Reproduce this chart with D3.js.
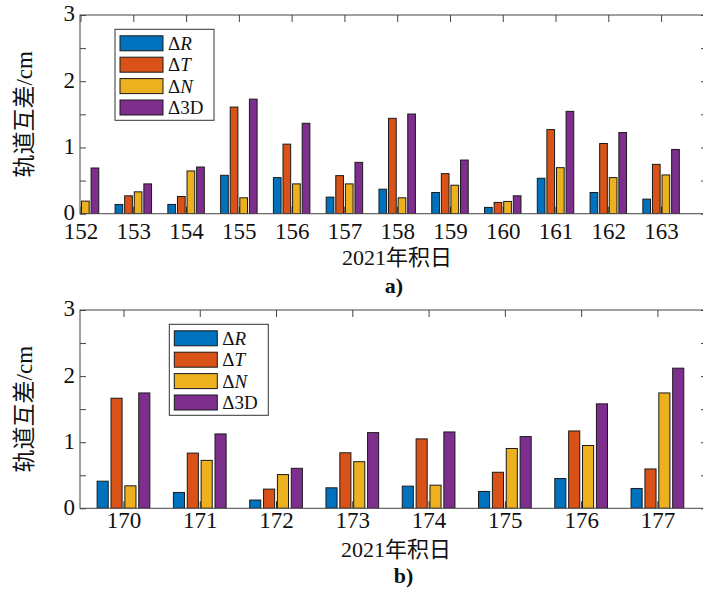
<!DOCTYPE html>
<html>
<head>
  <meta charset="utf-8">
  <title>轨道互差</title>
  <script src="https://cdn.jsdelivr.net/npm/d3@7/dist/d3.min.js"></script>
  <style>
    body { margin: 0; background: #fff; }
    text { fill: #111; }
  </style>
</head>
<body>
  <script>
    // panel a)
    const daysA = [152, 153, 154, 155, 156, 157, 158, 159, 160, 161, 162, 163]
    const rA = [null, 0.14, 0.14, 0.58, 0.545, 0.25, 0.37, 0.32, 0.095, 0.535, 0.32, 0.22]
    const tA = [null, 0.27, 0.26, 1.61, 1.05, 0.575, 1.44, 0.605, 0.17, 1.27, 1.06, 0.745]
    const nA = [0.19, 0.33, 0.645, 0.24, 0.45, 0.45, 0.24, 0.43, 0.185, 0.695, 0.545, 0.585]
    const dA = [0.69, 0.45, 0.705, 1.73, 1.365, 0.775, 1.505, 0.81, 0.27, 1.545, 1.225, 0.97]

    // panel b)
    const daysB = [170, 171, 172, 173, 174, 175, 176, 177]
    const rB = [0.41, 0.24, 0.125, 0.31, 0.335, 0.255, 0.45, 0.30]
    const tB = [1.665, 0.835, 0.29, 0.84, 1.05, 0.545, 1.17, 0.595]
    const nB = [0.34, 0.725, 0.51, 0.705, 0.35, 0.905, 0.95, 1.745]
    const dB = [1.745, 1.125, 0.605, 1.145, 1.155, 1.085, 1.58, 2.12]

    const yTicks = [0, 0.5, 1, 1.5, 2, 2.5, 3]
    const legendSym = ['R', 'T', 'N', '3D']
    const legendItalic = [true, true, true, false]
    const colors = ['#0072BD', '#D95319', '#EDB120', '#7E2F8E']

    const serif = "'Liberation Serif', 'DejaVu Serif', serif"
    const mixed = "'Liberation Serif', 'DejaVu Serif', 'Noto Sans CJK SC', serif"

    const width = 703, height = 592
    const svg = d3.select('body').append('svg')
      .attr('width', width)
      .attr('height', height)

    function panel(opt) {
      const x = d3.scaleLinear().domain(opt.xDomain).range([opt.left, opt.right])
      const y = d3.scaleLinear().domain([0, 3]).range([opt.bottom, opt.top])
      const g = svg.append('g')

      const clipId = 'clip' + opt.name
      g.append('clipPath').attr('id', clipId)
        .append('rect')
        .attr('x', opt.left).attr('y', opt.top)
        .attr('width', opt.right - opt.left).attr('height', opt.bottom - opt.top)

      // matlab grouped bar geometry
      const unit = x(opt.days[1]) - x(opt.days[0])
      const groupW = unit * 4 / 5.5
      const step = groupW / 4
      const barW = step * 0.8

      // tick marks below bars
      g.append('g')
        .attr('transform', `translate(0,${opt.bottom})`)
        .call(d3.axisBottom(x).tickValues(opt.days).tickSizeInner(-7).tickSizeOuter(0)
          .tickPadding(opt.xPad).tickFormat(d3.format('d')))
        .call(a => a.select('.domain').remove())
        .call(a => a.selectAll('line').attr('stroke', '#222'))
        .call(a => a.selectAll('text').attr('font-size', 23).attr('font-family', serif).attr('fill', '#111'))
      g.append('g')
        .attr('transform', `translate(0,${opt.top})`)
        .call(d3.axisTop(x).tickValues(opt.days).tickSizeInner(-7).tickSizeOuter(0).tickFormat(''))
        .call(a => a.select('.domain').remove())
        .call(a => a.selectAll('line').attr('stroke', '#444'))
      g.append('g')
        .attr('transform', `translate(${opt.left},0)`)
        .call(d3.axisLeft(y).tickValues(yTicks).tickSizeInner(-6).tickSizeOuter(0)
          .tickPadding(5).tickFormat(d => Number.isInteger(d) ? d : ''))
        .call(a => a.select('.domain').remove())
        .call(a => a.selectAll('line').attr('stroke', '#444'))
        .call(a => a.selectAll('text').attr('font-size', 23).attr('font-family', serif)
          .attr('fill', '#111').attr('dy', '0.26em'))
      g.append('g')
        .attr('transform', `translate(${opt.right},0)`)
        .call(d3.axisRight(y).tickValues(yTicks).tickSizeInner(-6).tickSizeOuter(0).tickFormat(''))
        .call(a => a.select('.domain').remove())
        .call(a => a.selectAll('line').attr('stroke', '#444'))

      const bars = g.append('g').attr('clip-path', `url(#${clipId})`)
      opt.series.forEach((vals, s) => {
        bars.selectAll(null)
          .data(vals.map((v, i) => ({ day: opt.days[i], v })).filter(d => d.v != null))
          .enter()
          .append('rect')
          .attr('x', d => x(d.day) + (s - 1.5) * step - barW / 2)
          .attr('y', d => y(d.v))
          .attr('width', barW)
          .attr('height', d => y(0) - y(d.v))
          .attr('fill', colors[s])
          .attr('stroke', '#1a1a1a')
          .attr('stroke-width', 1)
      })

      // box
      g.append('rect')
        .attr('x', opt.left).attr('y', opt.top)
        .attr('width', opt.right - opt.left).attr('height', opt.bottom - opt.top)
        .attr('fill', 'none').attr('stroke', '#444').attr('stroke-width', 1)

      // legend
      const lg = g.append('g').attr('transform', `translate(${opt.legend[0]},${opt.legend[1]})`)
      lg.append('rect').attr('width', 99).attr('height', 91)
        .attr('fill', '#fff').attr('stroke', '#333').attr('stroke-width', 1)
      legendSym.forEach((sym, i) => {
        const row = lg.append('g').attr('transform', `translate(0,${6.5 + i * 21.4})`)
        row.append('rect').attr('x', 5).attr('width', 43).attr('height', 15)
          .attr('fill', colors[i]).attr('stroke', '#1a1a1a').attr('stroke-width', 1)
        const t = row.append('text').attr('x', 53).attr('y', 14).attr('font-size', 19)
          .attr('font-family', serif)
        t.append('tspan').text('Δ')
        t.append('tspan').attr('font-style', legendItalic[i] ? 'italic' : 'normal').text(sym)
      })

      // labels
      g.append('text')
        .attr('transform', `translate(24,${(opt.top + opt.bottom) / 2}) rotate(-90)`)
        .attr('text-anchor', 'middle').attr('dominant-baseline', 'central')
        .attr('font-size', 23).attr('font-family', mixed)
        .text('轨道互差/cm')
      g.append('text')
        .attr('x', opt.titleX).attr('y', opt.titleY)
        .attr('text-anchor', 'middle').attr('font-size', 22).attr('font-family', mixed)
        .text('2021年积日')
      g.append('text')
        .attr('x', opt.capX).attr('y', opt.capY)
        .attr('text-anchor', 'middle').attr('font-size', 22).attr('font-weight', 'bold')
        .attr('font-family', serif)
        .text(opt.name + ')')
    }

    panel({
      name: 'a', days: daysA, series: [rA, tA, nA, dA],
      xDomain: [151.99, 163.87], left: 80, right: 707, top: 15, bottom: 213.7,
      xPad: 8.5, legend: [115, 29.3],
      titleX: 397, titleY: 265, capX: 394, capY: 293
    })
    panel({
      name: 'b', days: daysB, series: [rB, tB, nB, dB],
      xDomain: [169.43, 177.65], left: 80, right: 707, top: 310, bottom: 508.3,
      xPad: 3.5, legend: [169.3, 324.3],
      titleX: 396, titleY: 557, capX: 403.5, capY: 583
    })
  </script>
</body>
</html>
